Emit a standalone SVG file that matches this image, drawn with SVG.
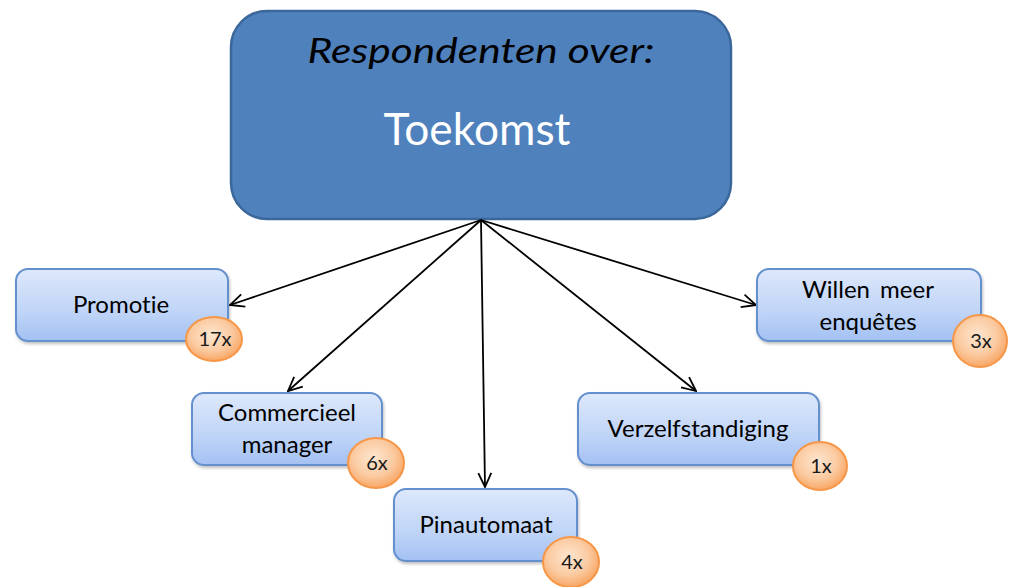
<svg xmlns="http://www.w3.org/2000/svg" width="1013" height="587" viewBox="0 0 1013 587">
<style>
.node{fill:url(#ng);stroke:#6590CE;stroke-width:2;filter:url(#sh)}
.badge{fill:url(#bg);stroke:#F79646;stroke-width:2}
text{font-variant-ligatures:none}
.t{font-family:Lato,"Open Sans",sans-serif;font-size:24px;fill:#000;text-anchor:middle}
.b{font-family:Lato,"Open Sans",sans-serif;font-size:20px;fill:#1a1a1a;text-anchor:middle}
.c line{stroke:#000;stroke-width:1.8;marker-end:url(#ah)}
</style>
<defs>
<linearGradient id="ng" x1="0" y1="0" x2="0" y2="1">
<stop offset="0" stop-color="#DDE8FB"/>
<stop offset="0.6" stop-color="#BFD4F7"/>
<stop offset="1" stop-color="#A3C1F3"/>
</linearGradient>
<radialGradient id="bg" cx="0.45" cy="0.4" r="0.6">
<stop offset="0" stop-color="#FDE6D0"/>
<stop offset="0.6" stop-color="#FBCBA2"/>
<stop offset="1" stop-color="#F8A766"/>
</radialGradient>
<filter id="sh" x="-10%" y="-10%" width="120%" height="130%">
<feDropShadow dx="1" dy="2" stdDeviation="1.5" flood-color="#000" flood-opacity="0.25"/>
</filter>
<marker id="ah" viewBox="0 0 16 16" refX="15" refY="8" markerWidth="16" markerHeight="16" markerUnits="userSpaceOnUse" orient="auto">
<path d="M1,1.5 L15,8 L1,14.5" fill="none" stroke="#000" stroke-width="1.8"/>
</marker>
</defs>
<g id="main">
<rect x="231" y="11" width="500" height="208" rx="36" fill="#4F81BD" stroke="#3C679B" stroke-width="2.5"/>
<text x="481" y="63" font-family="Lato,'Open Sans',sans-serif" font-size="35" font-style="italic" fill="#000" text-anchor="middle" textLength="347" lengthAdjust="spacingAndGlyphs">Respondenten over:</text>
<text x="477" y="145" font-family="Lato,'Open Sans',sans-serif" font-size="45" fill="#fff" text-anchor="middle" textLength="187" lengthAdjust="spacingAndGlyphs">Toekomst</text>
</g>
<g class="c" id="connectors">
<line x1="481" y1="220" x2="230" y2="305"/>
<line x1="481" y1="220" x2="288" y2="391"/>
<line x1="481" y1="220" x2="485" y2="487"/>
<line x1="481" y1="220" x2="696" y2="391"/>
<line x1="481" y1="220" x2="756" y2="305"/>
</g>
<g id="promotie">
<rect class="node" x="16" y="269" width="212" height="72" rx="12"/>
<text class="t" x="121" y="313">Promotie</text>
<ellipse class="badge" cx="214" cy="339" rx="28" ry="22"/>
<text class="b" x="215" y="346">17x</text>
</g>
<g id="commercieel">
<rect class="node" x="192" y="393" width="190" height="72" rx="12"/>
<text class="t" x="287" y="421">Commercieel</text>
<text class="t" x="287" y="453">manager</text>
<ellipse class="badge" cx="376" cy="463" rx="28" ry="25"/>
<text class="b" x="377" y="470">6x</text>
</g>
<g id="pinautomaat">
<rect class="node" x="394" y="489" width="183" height="72" rx="12"/>
<text class="t" x="486" y="533">Pinautomaat</text>
<ellipse class="badge" cx="571" cy="562" rx="28" ry="25"/>
<text class="b" x="572" y="569">4x</text>
</g>
<g id="verzelfstandiging">
<rect class="node" x="578" y="393" width="241" height="72" rx="12"/>
<text class="t" x="698" y="437">Verzelfstandiging</text>
<ellipse class="badge" cx="820" cy="466" rx="27" ry="24"/>
<text class="b" x="821" y="473">1x</text>
</g>
<g id="willen">
<rect class="node" x="757" y="269" width="224" height="72" rx="12"/>
<text class="t" x="868" y="298" word-spacing="4">Willen meer</text>
<text class="t" x="868" y="330">enquêtes</text>
<ellipse class="badge" cx="980" cy="341" rx="27" ry="26"/>
<text class="b" x="981" y="348">3x</text>
</g>
</svg>
